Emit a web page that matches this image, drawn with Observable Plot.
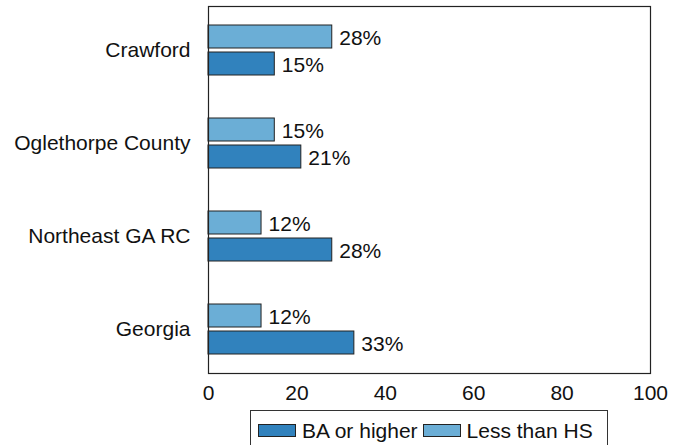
<!DOCTYPE html>
<html>
<head>
<meta charset="utf-8">
<script src="https://cdn.jsdelivr.net/npm/d3@7"></script>
<script src="https://cdn.jsdelivr.net/npm/@observablehq/plot@0.6"></script>
<style>
  html, body { margin: 0; padding: 0; background: #fff; }
  body { width: 683px; height: 445px; overflow: hidden; font-family: "Liberation Sans", Arial, sans-serif; }
  #legend {
    margin-top: 5px;
    margin-left: 250px;
    width: 358px;
    height: 40px;
    box-sizing: border-box;
    border: 1px solid #333;
    display: flex;
    align-items: center;
    padding-left: 7px;
    font-size: 21px;
    color: #111;
  }
  .sw { width: 38px; height: 13px; box-sizing: border-box; border: 1px solid #222; margin-right: 6px; }
  .lab { margin-right: 5px; line-height: 1; }
</style>
</head>
<body>
<div id="chart"></div>
<div id="legend"></div>
<script>
const regions = ["Crawford", "Oglethorpe County", "Northeast GA RC", "Georgia"];
const baOrHigher = [15, 21, 28, 33];
const lessThanHS = [28, 15, 12, 12];
const seriesNames = ["BA or higher", "Less than HS"];
const seriesColors = ["#3182bd", "#6baed6"];
const xTicks = [0, 20, 40, 60, 80, 100];

const baData = regions.map((r, i) => ({region: r, value: baOrHigher[i]}));
const hsData = regions.map((r, i) => ({region: r, value: lessThanHS[i]}));

const plot = Plot.plot({
  width: 683,
  height: 405,
  marginTop: 6,
  marginBottom: 32,
  marginLeft: 208,
  marginRight: 33,
  style: {fontFamily: "Liberation Sans, Arial, sans-serif", fontSize: "21px", color: "#111", background: "#fff"},
  x: {domain: [0, 100], ticks: xTicks, label: null},
  y: {domain: regions, paddingInner: 0.466, paddingOuter: 0.192, label: null},
  marks: [
    Plot.barX(hsData, {x: "value", y: "region", fill: seriesColors[1], stroke: "#222", strokeWidth: 1, insetBottom: 27}),
    Plot.barX(baData, {x: "value", y: "region", fill: seriesColors[0], stroke: "#222", strokeWidth: 1, insetTop: 27}),
    Plot.text(hsData, {x: "value", y: "region", text: d => d.value + "%", textAnchor: "start", dx: 7, dy: -12, fontSize: 21, fill: "#111"}),
    Plot.text(baData, {x: "value", y: "region", text: d => d.value + "%", textAnchor: "start", dx: 7, dy: 15, fontSize: 21, fill: "#111"}),
    Plot.axisX({ticks: xTicks, tickSize: 0, tickPadding: 12, fontSize: 21, label: null}),
    Plot.axisY({tickSize: 0, tickPadding: 18, fontSize: 21, label: null}),
    Plot.frame({stroke: "#222", strokeWidth: 1.2})
  ]
});
document.getElementById("chart").appendChild(plot);

const legend = document.getElementById("legend");
seriesNames.forEach((name, i) => {
  const sw = document.createElement("div");
  sw.className = "sw";
  sw.style.background = seriesColors[i];
  const lab = document.createElement("span");
  lab.className = "lab";
  lab.textContent = name;
  legend.appendChild(sw);
  legend.appendChild(lab);
});
</script>
</body>
</html>
